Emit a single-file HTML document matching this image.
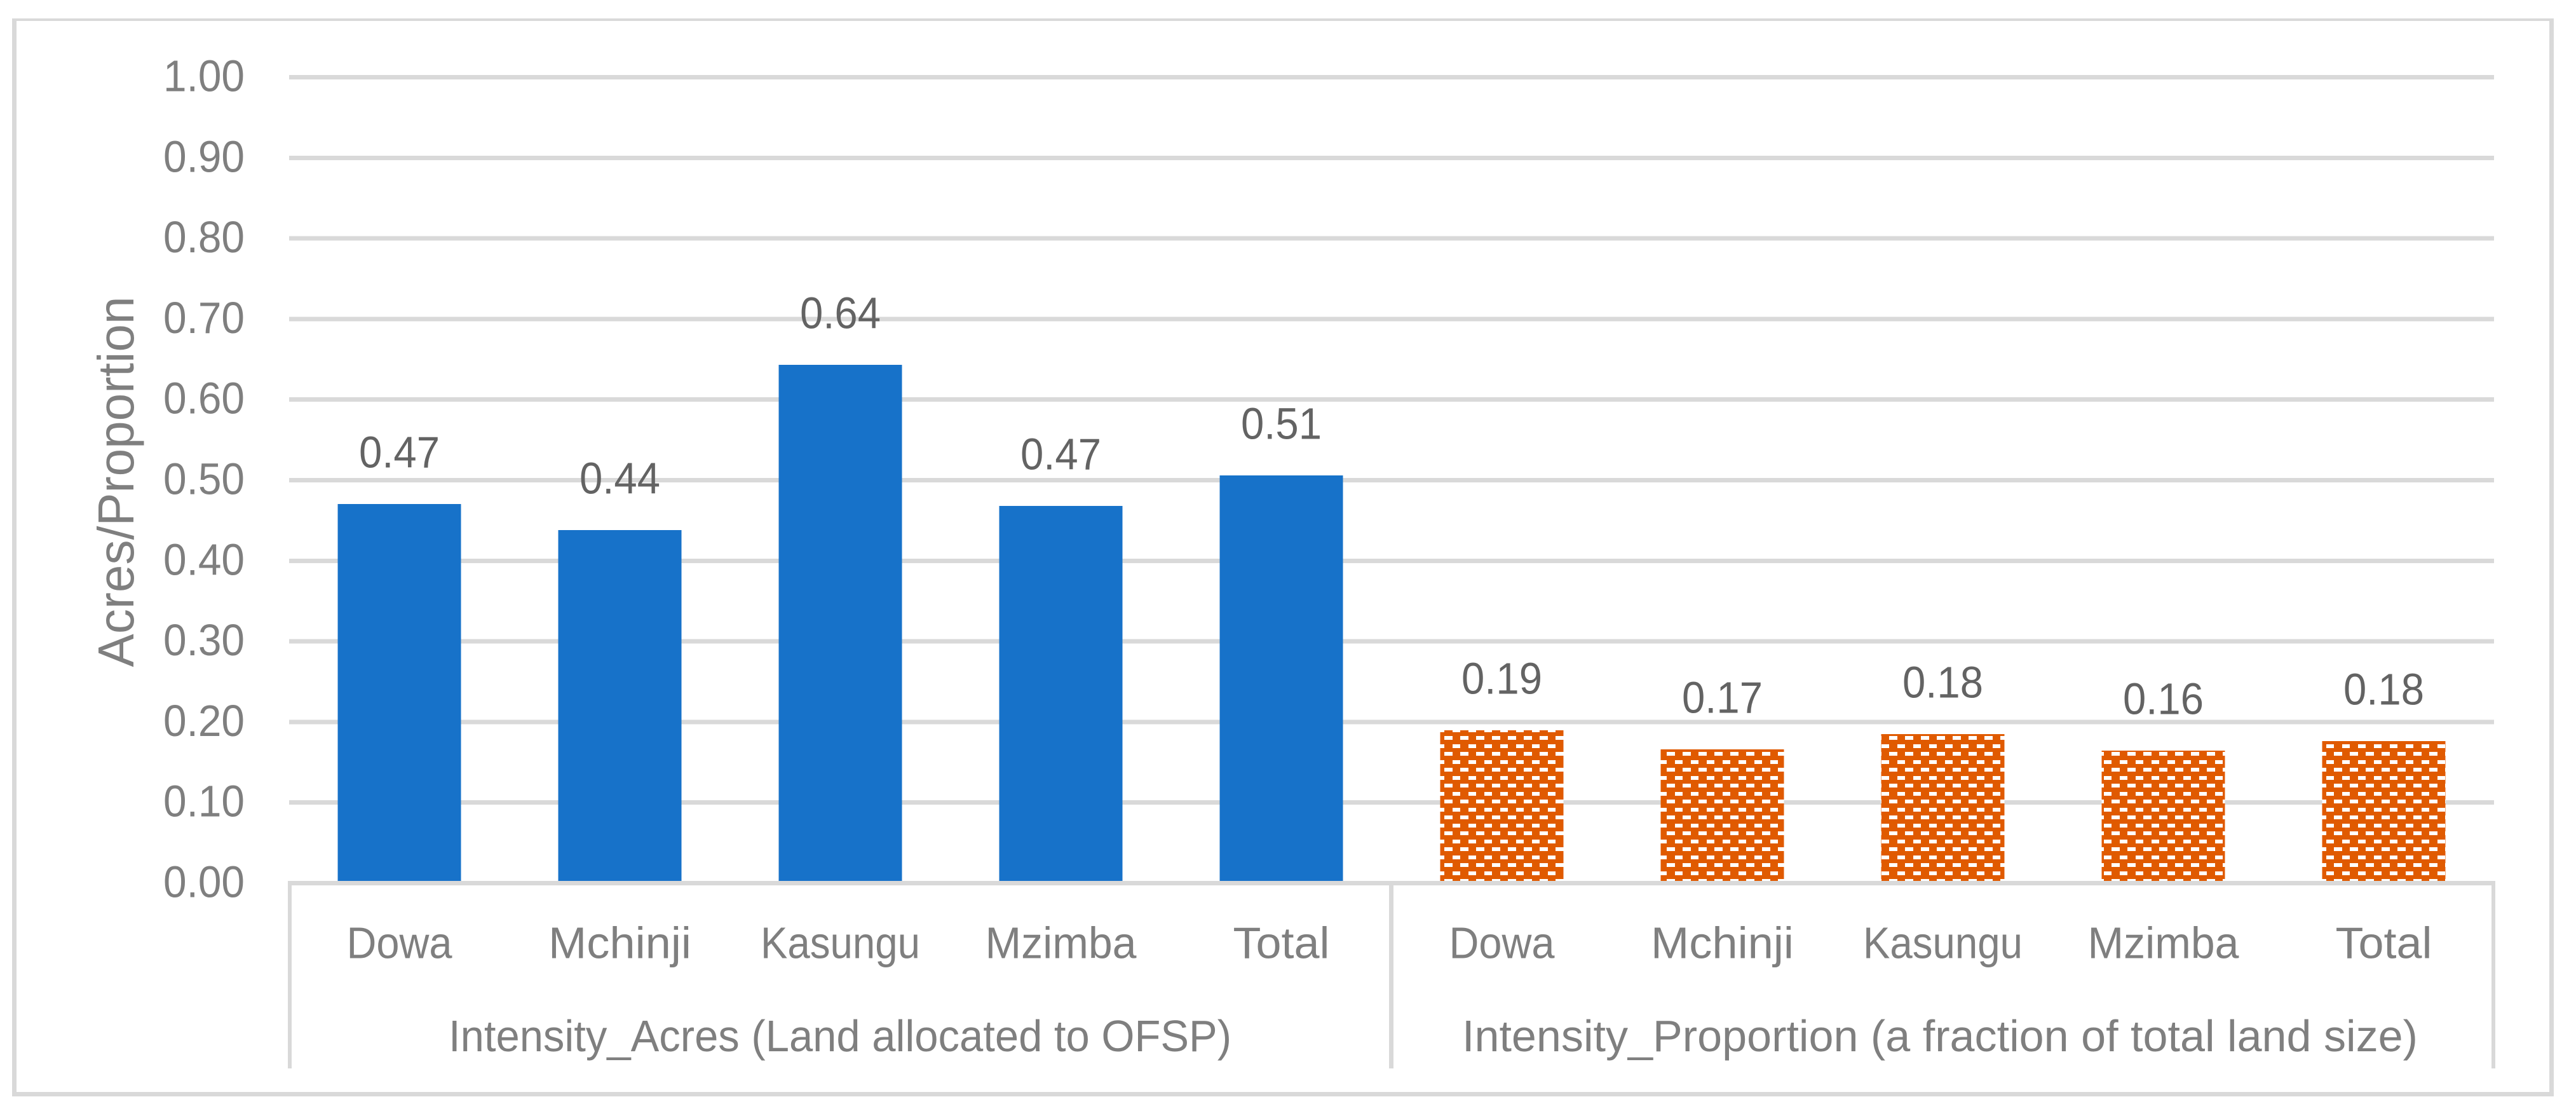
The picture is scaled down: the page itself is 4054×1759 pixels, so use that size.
<!DOCTYPE html>
<html lang="en">
<head>
<meta charset="utf-8">
<title>Intensity of OFSP land allocation</title>
<style>
html,body{margin:0;padding:0;background:#fff;width:4054px;height:1759px;overflow:hidden}
svg{display:block}
text{font-family:"Liberation Sans",sans-serif;font-size:70px}
.tick,.cat,.group,.ytitle{fill:#7f7f7f}
.val{fill:#636363}
.ytitle{font-size:80px}
</style>
</head>
<body>
<svg id="chart" xmlns="http://www.w3.org/2000/svg" width="4054" height="1759" viewBox="0 0 4054 1759">
  <defs>
    <pattern id="brick" patternUnits="userSpaceOnUse" x="0" y="0" width="25" height="25">
      <rect x="0" y="0" width="25" height="25" fill="#e05a00" shape-rendering="crispEdges"/>
      <rect x="23" y="8" width="13" height="6" fill="#fff" shape-rendering="crispEdges"/>
      <rect x="-2" y="8" width="13" height="6" fill="#fff" shape-rendering="crispEdges"/>
      <rect x="11" y="21" width="12" height="6" fill="#fff" shape-rendering="crispEdges"/>
      <rect x="11" y="-4" width="12" height="6" fill="#fff" shape-rendering="crispEdges"/>
    </pattern>
  </defs>
  <rect x="0" y="0" width="4054" height="1759" fill="#fff"/>
  <g fill="#d9d9d9" shape-rendering="crispEdges">
    <rect x="19" y="29" width="4000" height="4"/>
    <rect x="19" y="1718" width="4000" height="7"/>
    <rect x="19" y="29" width="7" height="1696"/>
    <rect x="4012" y="29" width="7" height="1696"/>
  </g>
  <g id="grid"></g>
  <g id="bars"></g>
  <g id="axis" fill="#d9d9d9" shape-rendering="crispEdges">
    <rect x="455" y="1386" width="3470" height="7"/>
    <rect x="453" y="1386" width="6" height="295"/>
    <rect x="2186" y="1386" width="7" height="295"/>
    <rect x="3921" y="1386" width="6" height="295"/>
  </g>
  <g id="yticks"></g>
  <g id="cats"></g>
  <g id="vals"></g>
  <text class="group" x="1322" y="1654" text-anchor="middle" textLength="1232" lengthAdjust="spacingAndGlyphs">Intensity_Acres (Land allocated to OFSP)</text>
  <text class="group" x="3053" y="1654" text-anchor="middle" textLength="1504" lengthAdjust="spacingAndGlyphs">Intensity_Proportion (a fraction of total land size)</text>
  <text class="ytitle" transform="translate(210 758) rotate(-90)" text-anchor="middle" textLength="583" lengthAdjust="spacingAndGlyphs">Acres/Proportion</text>
</svg>
<script>
const categories = ['Dowa', 'Mchinji', 'Kasungu', 'Mzimba', 'Total'];
const intensityAcres = [0.4704, 0.4381, 0.6431, 0.4681, 0.5059];
const intensityProportion = [0.1897, 0.1660, 0.1849, 0.1644, 0.1762];
const yTicks = [0, 0.1, 0.2, 0.3, 0.4, 0.5, 0.6, 0.7, 0.8, 0.9, 1];

const NS = 'http://www.w3.org/2000/svg';
const plotLeft = 455, plotWidth = 3470, y0 = 1389.5, yScale = 1268;
const bandCount = categories.length * 2;
const band = plotWidth / bandCount;
const barWidth = 194;
const catWidths = {Dowa: 166, Mchinji: 225, Kasungu: 251, Mzimba: 238, Total: 152};

function yPos(v) { return y0 - v * yScale; }
function xCenter(i) { return plotLeft + band * (i + 0.5); }
function make(tag, attrs, parent, text) {
  const el = document.createElementNS(NS, tag);
  for (const k in attrs) el.setAttribute(k, attrs[k]);
  if (text !== undefined) el.textContent = text;
  parent.appendChild(el);
  return el;
}

const gridG = document.getElementById('grid');
const tickG = document.getElementById('yticks');
yTicks.forEach(function (t) {
  if (t > 0) {
    const line = make('rect', {x: plotLeft, y: yPos(t) - 3.5, width: plotWidth, height: 7, fill: '#d9d9d9', 'shape-rendering': 'crispEdges'}, gridG);
    
    
  }
  const label = make('text', {class: 'tick', x: 385, y: yPos(t) + 22, 'text-anchor': 'end', textLength: 128, lengthAdjust: 'spacingAndGlyphs'}, tickG, t.toFixed(2));
  
  
});

const barsG = document.getElementById('bars');
const catsG = document.getElementById('cats');
const valsG = document.getElementById('vals');
function drawSeries(values, offset, fill, name) {
  values.forEach(function (v, i) {
    const idx = offset + i;
    const cx = xCenter(idx);
    const top = yPos(v);
    const bar = make('rect', {x: cx - barWidth / 2, y: top, width: barWidth, height: y0 - top, fill: fill, 'shape-rendering': 'crispEdges'}, barsG);
    
    
    const val = make('text', {class: 'val', x: cx, y: top - 57.5, 'text-anchor': 'middle', textLength: 127, lengthAdjust: 'spacingAndGlyphs'}, valsG, v.toFixed(2));
    
    
    const cat = make('text', {class: 'cat', x: cx, y: 1507.5, 'text-anchor': 'middle', textLength: catWidths[categories[i]], lengthAdjust: 'spacingAndGlyphs'}, catsG, categories[i]);
    
    
  });
}
drawSeries(intensityAcres, 0, '#1772c9', 'acres');
drawSeries(intensityProportion, categories.length, 'url(#brick)', 'proportion');
</script>
</body>
</html>
